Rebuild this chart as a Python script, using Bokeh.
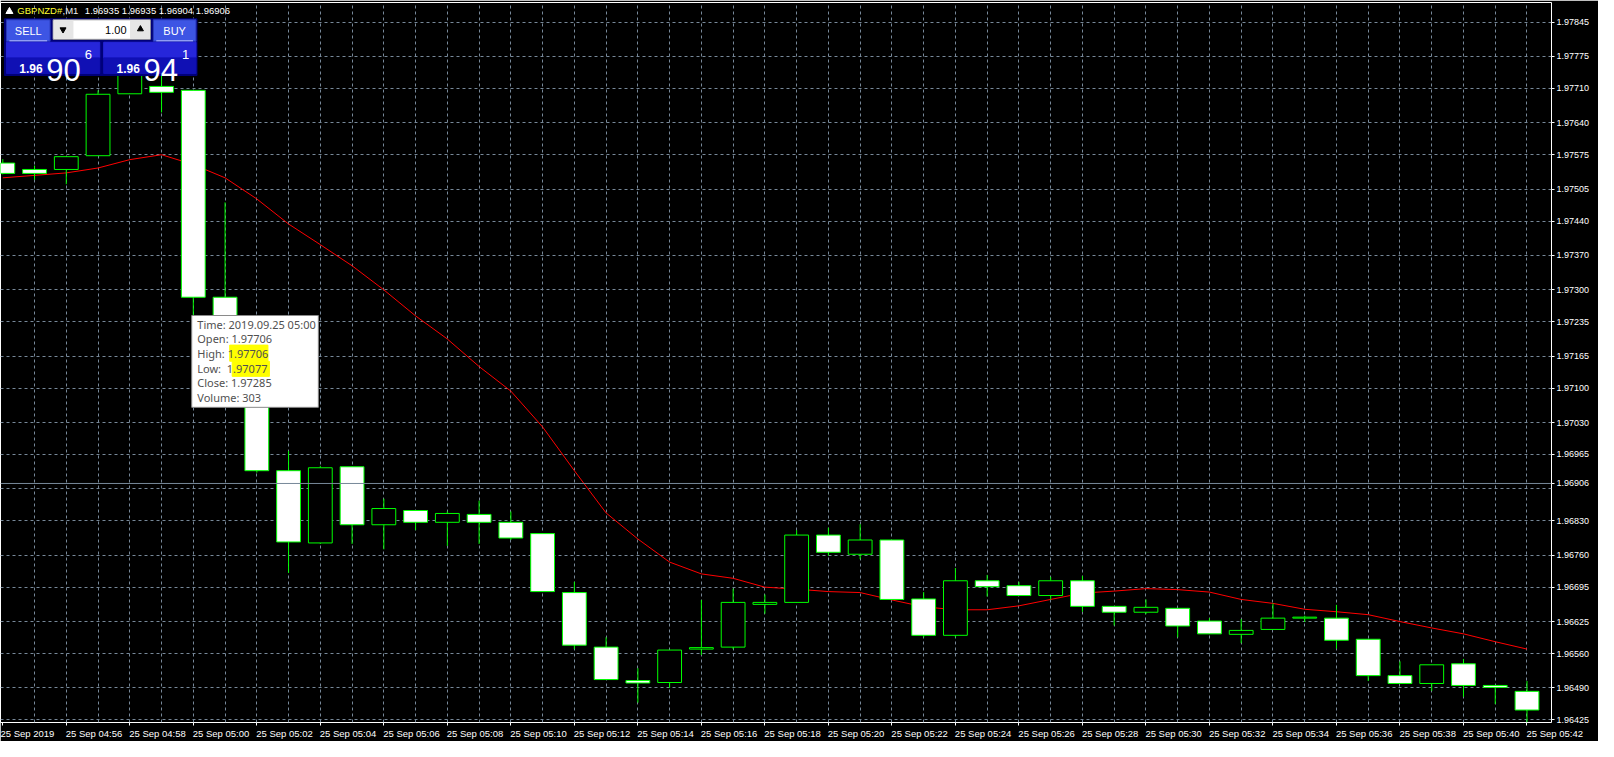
from bokeh.plotting import figure
from bokeh.models import ColumnDataSource, Range1d, FixedTicker, PrintfTickFormatter, Span
from bokeh.core.properties import value
from bokeh.embed import file_html
from bokeh.resources import INLINE

# ---------------- data ----------------
bar_times = ["04:54", "04:55", "04:56", "04:57", "04:58", "04:59",
             "05:00", "05:01", "05:02", "05:03", "05:04", "05:05", "05:06", "05:07", "05:08", "05:09",
             "05:10", "05:11", "05:12", "05:13", "05:14", "05:15", "05:16", "05:17", "05:18", "05:19",
             "05:20", "05:21", "05:22", "05:23", "05:24", "05:25", "05:26", "05:27", "05:28", "05:29",
             "05:30", "05:31", "05:32", "05:33", "05:34", "05:35", "05:36", "05:37", "05:38", "05:39",
             "05:40", "05:41", "05:42"]

opens = [1.97558, 1.97545, 1.97545, 1.97573, 1.97699, 1.97714,
         1.97706, 1.97285, 1.97150, 1.96932, 1.96785, 1.96940, 1.96822, 1.96851, 1.96827, 1.96843,
         1.96827, 1.96804, 1.96684, 1.96573, 1.96505, 1.96501, 1.96569, 1.96573, 1.96660, 1.96664,
         1.96801, 1.96762, 1.96791, 1.96671, 1.96597, 1.96708, 1.96698, 1.96678, 1.96708, 1.96656,
         1.96644, 1.96652, 1.96626, 1.96599, 1.96609, 1.96632, 1.96632, 1.96589, 1.96515, 1.96499,
         1.96539, 1.96495, 1.96483]
highs = [1.97566, 1.97553, 1.97571, 1.97706, 1.97800, 1.97790,
         1.97706, 1.97478, 1.97160, 1.96972, 1.96942, 1.96940, 1.96875, 1.96851, 1.96849, 1.96871,
         1.96849, 1.96804, 1.96706, 1.96593, 1.96530, 1.96567, 1.96669, 1.96692, 1.96680, 1.96811,
         1.96816, 1.96823, 1.96791, 1.96685, 1.96734, 1.96720, 1.96706, 1.96716, 1.96718, 1.96656,
         1.96670, 1.96652, 1.96632, 1.96630, 1.96662, 1.96637, 1.96659, 1.96589, 1.96544, 1.96537,
         1.96549, 1.96495, 1.96504]
lows = [1.97535, 1.97524, 1.97515, 1.97573, 1.97699, 1.97661,
        1.97077, 1.97140, 1.96928, 1.96724, 1.96783, 1.96783, 1.96772, 1.96811, 1.96779, 1.96783,
        1.96791, 1.96686, 1.96569, 1.96507, 1.96460, 1.96490, 1.96557, 1.96569, 1.96641, 1.96664,
        1.96759, 1.96752, 1.96670, 1.96593, 1.96593, 1.96676, 1.96678, 1.96670, 1.96645, 1.96617,
        1.96640, 1.96593, 1.96600, 1.96581, 1.96609, 1.96624, 1.96570, 1.96504, 1.96499, 1.96484,
        1.96472, 1.96457, 1.96420]
closes = [1.97537, 1.97537, 1.97571, 1.97698, 1.97780, 1.97702,
          1.97285, 1.97150, 1.96932, 1.96787, 1.96938, 1.96822, 1.96855, 1.96827, 1.96845, 1.96827,
          1.96795, 1.96686, 1.96577, 1.96507, 1.96500, 1.96567, 1.96572, 1.96664, 1.96664, 1.96801,
          1.96766, 1.96791, 1.96670, 1.96597, 1.96708, 1.96696, 1.96678, 1.96708, 1.96656, 1.96644,
          1.96654, 1.96616, 1.96600, 1.96607, 1.96632, 1.96634, 1.96587, 1.96515, 1.96499, 1.96537,
          1.96495, 1.96491, 1.96445]
ma_values = [1.97528, 1.97533, 1.97538, 1.97548, 1.97565, 1.97575,
             1.97555, 1.97528, 1.97485, 1.97434, 1.97392, 1.97349, 1.97300, 1.97247, 1.97200, 1.97144,
             1.97094, 1.97021, 1.96932, 1.96846, 1.96793, 1.96746, 1.96722, 1.96713, 1.96695, 1.96691,
             1.96686, 1.96684, 1.96669, 1.96655, 1.96649, 1.96649, 1.96657, 1.96670, 1.96683, 1.96687,
             1.96692, 1.96690, 1.96685, 1.96670, 1.96662, 1.96650, 1.96645, 1.96639, 1.96625, 1.96612,
             1.96600, 1.96584, 1.96569]

time_tick_labels = ["25 Sep 2019", "25 Sep 04:56", "25 Sep 04:58", "25 Sep 05:00", "25 Sep 05:02",
                    "25 Sep 05:04", "25 Sep 05:06", "25 Sep 05:08", "25 Sep 05:10", "25 Sep 05:12",
                    "25 Sep 05:14", "25 Sep 05:16", "25 Sep 05:18", "25 Sep 05:20", "25 Sep 05:22",
                    "25 Sep 05:24", "25 Sep 05:26", "25 Sep 05:28", "25 Sep 05:30", "25 Sep 05:32",
                    "25 Sep 05:34", "25 Sep 05:36", "25 Sep 05:38", "25 Sep 05:40", "25 Sep 05:42"]
price_ticks = [1.96425, 1.96490, 1.96560, 1.96625, 1.96695, 1.96760, 1.96830, 1.96895,
               1.96965, 1.97030, 1.97100, 1.97165, 1.97235, 1.97300, 1.97370, 1.97440,
               1.97505, 1.97575, 1.97640, 1.97710, 1.97775, 1.97845]
current_price = 1.96906
header_symbol = "GBPNZD#"
header_period = ",M1"
header_ohlc = "1.96935 1.96935 1.96904 1.96906"
tooltip_lines = ["Time: 2019.09.25 05:00", "Open: 1.97706", "High: 1.97706",
                 "Low: \u00a01.97077", "Close: 1.97285", "Volume: 303"]
lot_size = "1.00"
sell_quote = ("1.96", "90", "6")
buy_quote = ("1.96", "94", "1")

# ---------------- layout helpers (reference pixel -> data) ----------------
PX0, PX_PER_BAR = 2.3, 32.0
PY0, P0, P_PER_PX = 22.3, 1.97845, 0.00001988


def dx(px):
    return (px - PX0) / PX_PER_BAR


def dy(py):
    return P0 - (py - PY0) * P_PER_PX


GREEN = "#00ff00"
GRID = "#778899"
AXIS_FONT = "Liberation Sans"

p = figure(width=1598, height=741, title=None, output_backend="svg", toolbar_location=None, tools="",
           x_range=Range1d(dx(0), dx(1563)), y_range=Range1d(dy(739.3), dy(2.3)),
           x_axis_location="below", y_axis_location="right",
           background_fill_color="black", border_fill_color="black",
           min_border_left=0, min_border_right=47, min_border_top=2, min_border_bottom=18)
p.outline_line_color = "white"
p.outline_line_width = 1

# grid: one dashed line per bar, one per price level
p.xgrid.ticker = FixedTicker(ticks=list(range(1, len(opens))))
p.ygrid.ticker = FixedTicker(ticks=price_ticks)
for g in (p.xgrid, p.ygrid):
    g.grid_line_color = GRID
    g.grid_line_dash = "3 3"
    g.grid_line_width = 1

# right price axis (the current-price marker covers the level next to it)
axis_prices = [t for t in price_ticks if abs(t - current_price) > 0.0002] + [current_price]
p.yaxis.ticker = FixedTicker(ticks=axis_prices)
p.yaxis.formatter = PrintfTickFormatter(format="%.5f")
p.yaxis.axis_line_color = None
p.yaxis.major_tick_line_color = "white"
p.yaxis.major_tick_in = 0
p.yaxis.major_tick_out = 3
p.yaxis.minor_tick_line_color = None
p.yaxis.major_label_standoff = 2
p.yaxis.major_label_text_color = "white"
p.yaxis.major_label_text_font = AXIS_FONT
p.yaxis.major_label_text_font_size = "9px"

# bottom time axis (labels start at their tick, as in the terminal)
tick_bars = list(range(0, len(opens), 2))
overrides = {}
for k, (b, lbl) in enumerate(zip(tick_bars, time_tick_labels)):
    pad = "" if k == 0 else "\u00a0" * round(len(lbl) * 1.78)
    overrides[b] = pad + lbl
p.xaxis.ticker = FixedTicker(ticks=tick_bars)
p.xaxis.major_label_overrides = overrides
p.xaxis.axis_line_color = None
p.xaxis.major_tick_line_color = "white"
p.xaxis.major_tick_in = 0
p.xaxis.major_tick_out = 3
p.xaxis.minor_tick_line_color = None
p.xaxis.major_label_standoff = 2
p.xaxis.major_label_text_color = "white"
p.xaxis.major_label_text_font = AXIS_FONT
p.xaxis.major_label_text_font_size = "9.5px"

# ---------------- series ----------------
idx = list(range(len(opens)))
src = ColumnDataSource(dict(
    x=idx, open=opens, high=highs, low=lows, close=closes,
    top=[max(o, c) for o, c in zip(opens, closes)],
    bottom=[min(o, c) for o, c in zip(opens, closes)],
    fill=["black" if c > o else "white" for o, c in zip(opens, closes)],
))
ma_src = ColumnDataSource(dict(x=idx, ma=ma_values))

p.line("x", "ma", source=ma_src, line_color="#ff0000", line_width=1)
p.segment(x0="x", y0="low", x1="x", y1="high", source=src, line_color=GREEN, line_width=1)
p.vbar(x="x", width=0.75, top="top", bottom="bottom", source=src,
       fill_color="fill", line_color=GREEN, line_width=1)

p.add_layout(Span(location=current_price, dimension="width", line_color=GRID, line_width=1))


# ---------------- overlays ----------------
def boxes(items):
    p.quad(left=[dx(a) for a, b, c, d, f, l in items], right=[dx(b) for a, b, c, d, f, l in items],
           top=[dy(c) for a, b, c, d, f, l in items], bottom=[dy(d) for a, b, c, d, f, l in items],
           fill_color=[f for *_, f, l in items], line_color=[l for *_, f, l in items], line_width=1)


def txt(px, py, s, size, color, align="left", baseline="middle", font="Liberation Sans", style="normal"):
    p.text(x=[dx(px)], y=[dy(py)], text=[s], text_font=value(font), text_font_size=value(size),
           text_color=color, text_align=align, text_baseline=baseline, text_font_style=style)


# header
p.scatter(x=[dx(9)], y=[dy(11.5)], marker="triangle", size=7, fill_color="white", line_color="white")
txt(17, 11, header_symbol, "9.5px", "#ffff33")
txt(62.5, 11, header_period, "9.5px", "#f0f0f0")
txt(85, 11, header_ohlc, "9.5px", "white")

# one-click trading panel
boxes([
    (4, 198, 19, 77, "#00007a", "#00007a"),
    (6, 50, 20, 42, "#3d55e4", "#2a3ab8"),
    (154, 197, 20, 42, "#3d55e4", "#2a3ab8"),
    (53, 151, 20, 40, "white", "#9a9a9a"),
    (54, 73, 21, 39, "#e6e6e6", "#e6e6e6"),
    (131, 150, 21, 39, "#e6e6e6", "#e6e6e6"),
    (6, 100, 43, 59, "#2626da", "#2626da"),
    (6, 100, 59, 75, "#1010b4", "#1010b4"),
    (104, 197, 43, 59, "#2626da", "#2626da"),
    (104, 197, 59, 75, "#1010b4", "#1010b4"),
])
p.segment(x0=[dx(9), dx(157)], y0=[dy(41.5), dy(41.5)], x1=[dx(47), dx(194)], y1=[dy(41.5), dy(41.5)],
          line_color="#b4bcff", line_width=1)
p.scatter(x=[dx(63)], y=[dy(30)], marker="inverted_triangle", size=6, fill_color="black", line_color="black")
p.scatter(x=[dx(141)], y=[dy(29.5)], marker="triangle", size=6, fill_color="black", line_color="black")
txt(28, 31, "SELL", "11px", "white", align="center")
txt(175.5, 31, "BUY", "11px", "white", align="center")
txt(127, 30.5, lot_size, "11px", "black", align="right")
for (small, big, sup), x0 in ((sell_quote, 19), (buy_quote, 117)):
    txt(x0, 69.5, small, "12px", "white", baseline="alphabetic", style="bold")
    txt(x0 + 27, 71, big, "31px", "white", baseline="alphabetic")
    txt(x0 + 66, 56, sup, "13px", "white", baseline="alphabetic")

# data-window tooltip
boxes([
    (192.7, 320.3, 322.7, 416.7, "white", "#8a8a8a"),
    (231, 269.5, 353, 369.5, "#ffff00", "#ffff00"),
    (233.5, 271, 369.5, 385, "#ffff00", "#ffff00"),
])
for i, line in enumerate(tooltip_lines):
    txt(198.3, 331.7 + 15 * i, line, "11px", "#505050", font="Noto Sans")

open("out.html", "w").write(file_html(p, INLINE))
